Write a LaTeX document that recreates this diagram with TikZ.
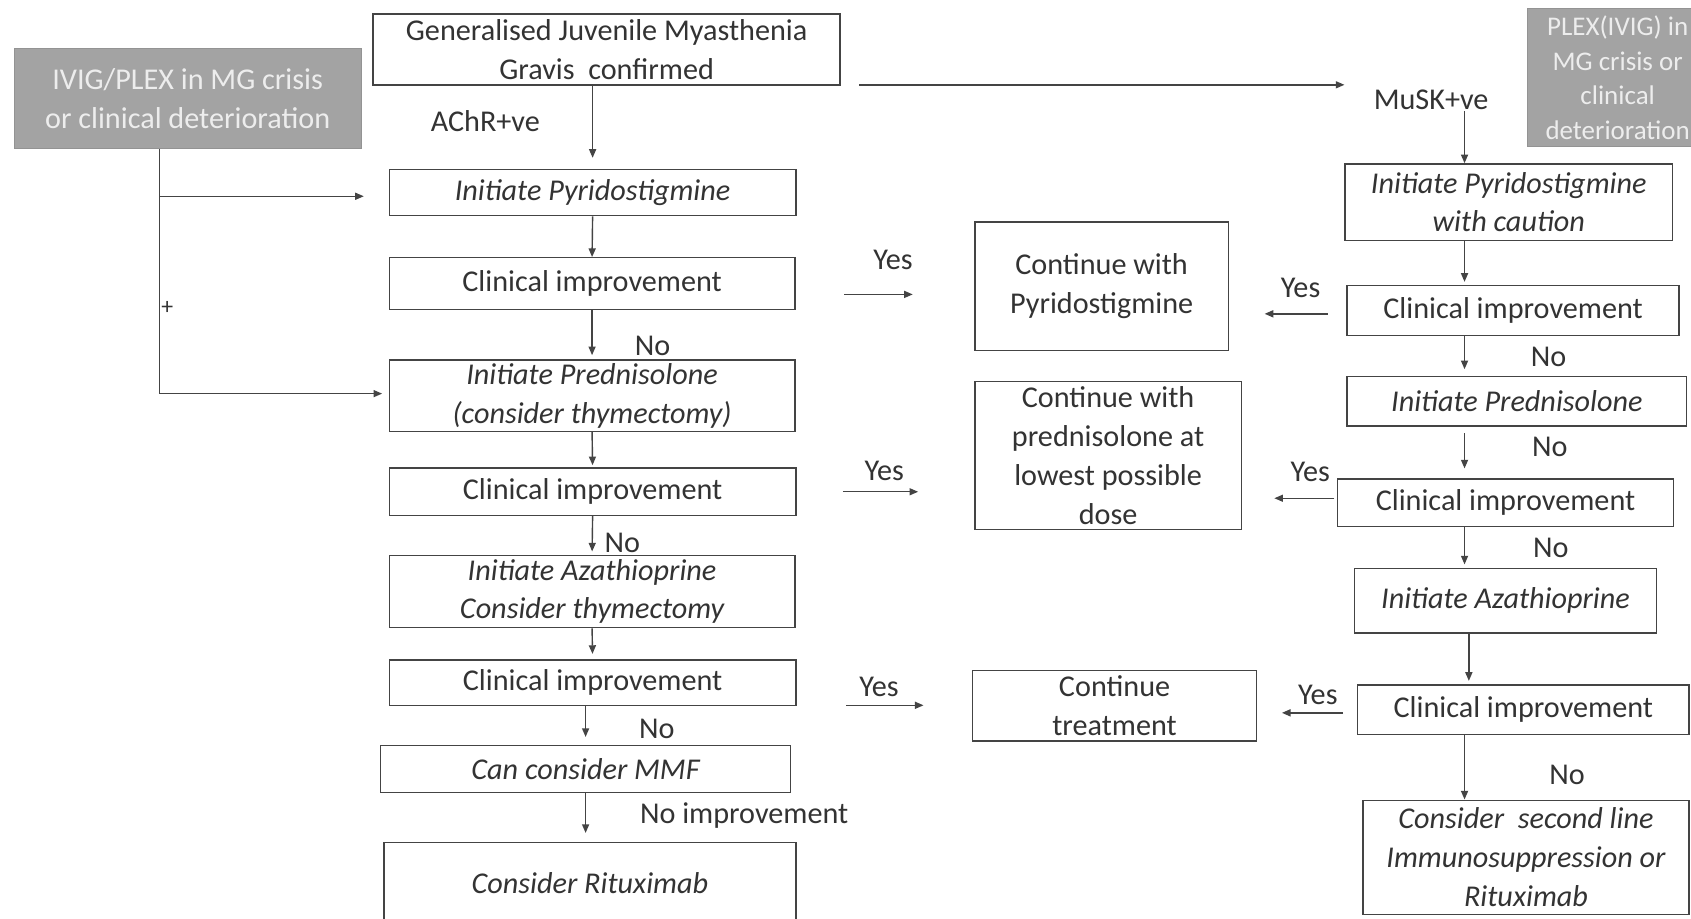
\documentclass[tikz,border=0pt]{standalone}
\usepackage{fontspec}
\setmainfont{Carlito}
\usetikzlibrary{arrows.meta}
\definecolor{txt}{HTML}{333333}
\definecolor{ln}{HTML}{444444}
\definecolor{greyfill}{HTML}{A3A3A3}
\definecolor{greytxt}{HTML}{EDEDED}
\tikzset{
  box/.style={draw=ln, line width=1.3pt, rectangle, inner sep=0pt, align=center, text=txt,
              font=\fontsize{28}{36}\selectfont},
  ibox/.style={box, font=\fontsize{28}{36}\selectfont\itshape},
  gbox/.style={rectangle, fill=greyfill, draw=greyfill!90!black, line width=0.6pt, inner sep=0pt,
               align=center, text=greytxt, font=\fontsize{28}{36}\selectfont},
  lbl/.style={text=txt, inner sep=1pt, font=\fontsize{28}{34}\selectfont},
  conn/.style={draw=ln, line width=1.3pt},
  arr/.style={conn, -{Triangle[length=8pt,width=6.5pt]}},
}
\begin{document}
\begin{tikzpicture}[x=1pt,y=1pt]
\clip (0,0) rectangle (1568,852);
\fill[white] (0,0) rectangle (1568,852);

% ---- left column
\node[box, minimum width=433pt, minimum height=66pt] (top) at (562.5,806)
  {Generalised Juvenile Myasthenia\\Gravis\ \ confirmed};
\node[gbox, minimum width=322pt, minimum height=93pt] (ivig) at (174,760.5)
  {IVIG/PLEX in MG crisis\\or clinical deterioration};
\node[ibox, minimum width=377pt, minimum height=43pt] (ipyr) at (549.5,673.5) {Initiate Pyridostigmine};
\node[box, minimum width=376pt, minimum height=48pt] (ci1) at (549,589) {Clinical improvement};
\node[ibox, minimum width=376pt, minimum height=66pt] (pred) at (549,485)
  {Initiate Prednisolone\\(consider thymectomy)};
\node[box, minimum width=377pt, minimum height=44pt] (ci2) at (549.5,396) {Clinical improvement};
\node[ibox, minimum width=376pt, minimum height=67pt] (aza) at (549,303.5)
  {Initiate Azathioprine\\Consider thymectomy};
\node[box, minimum width=377pt, minimum height=42pt] (ci3) at (549.5,219) {Clinical improvement};
\node[ibox, minimum width=380pt, minimum height=44pt] (mmf) at (543,139) {Can consider MMF};
\node[ibox, minimum width=382pt, minimum height=76pt] (rit) at (547,33) {Consider Rituximab};

% ---- middle column
\node[box, minimum width=235pt, minimum height=119pt] (contpyr) at (1021.5,586.5)
  {Continue with\\Pyridostigmine};
\node[box, minimum width=247pt, minimum height=137pt] (contpred) at (1027.5,429.5)
  {Continue with\\prednisolone at\\lowest possible\\dose};
\node[box, minimum width=263pt, minimum height=65pt] (conttr) at (1033.5,197.5)
  {Continue\\treatment};

% ---- right column
\node[gbox, minimum width=168pt, minimum height=128pt, font=\fontsize{25}{32}\selectfont] (plex) at (1500,780)
  {PLEX(IVIG) in\\MG crisis or\\clinical\\deterioration};
\node[lbl] (musk) at (1327,759) {MuSK+ve};
\node[ibox, minimum width=304pt, minimum height=71pt] (ipyrR) at (1399,664.5)
  {Initiate Pyridostigmine\\with caution};
\node[box, minimum width=308pt, minimum height=46pt] (ciR1) at (1403,564) {Clinical improvement};
\node[ibox, minimum width=315pt, minimum height=46pt] (predR) at (1406.5,480) {Initiate Prednisolone};
\node[box, minimum width=312pt, minimum height=44pt] (ciR2) at (1396,386) {Clinical improvement};
\node[ibox, minimum width=280pt, minimum height=60pt] (azaR) at (1396,295) {Initiate Azathioprine};
\node[box, minimum width=307pt, minimum height=46pt] (ciR3) at (1412.5,194) {Clinical improvement};
\node[ibox, minimum width=302pt, minimum height=106pt] (secR) at (1415,57)
  {Consider\ \ second line\\Immunosuppression or\\Rituximab};

% ---- labels
\node[lbl] (achr) at (450,740) {AChR+ve};
\node[lbl] (no1) at (605,531) {No};
\node[lbl] (no2) at (577,349) {No};
\node[lbl] (no3) at (609,176) {No};
\node[lbl] (noimp) at (690,96) {No improvement};
\node[lbl] (noR1) at (1436,521) {No};
\node[lbl] (noR2) at (1437,438) {No};
\node[lbl] (noR3) at (1438,344) {No};
\node[lbl] (noR4) at (1453,133) {No};
\node[lbl] (yesL1) at (828,611) {Yes};
\node[lbl] (yesL2) at (820,415) {Yes};
\node[lbl] (yesL3) at (815,215) {Yes};
\node[lbl] (yesR1) at (1206,585) {Yes};
\node[lbl] (yesR2) at (1215,414) {Yes};
\node[lbl] (yesR3) at (1222,208) {Yes};
\node[text=txt, inner sep=0pt, font=\fontsize{22}{22}\selectfont] (plus) at (155,566) {+};

% ---- left column connectors
\draw[arr, shorten >=10pt] (top.south -| ipyr.north) -- (ipyr.north);
\draw[arr] (ipyr.south) -- (ci1.north);
\draw[arr, shorten >=4pt] (ci1.south) -- (pred.north);
\draw[arr, shorten >=2pt] (pred.south) -- (ci2.north);
\draw[arr, shorten >=3pt] (ci2.south) -- (aza.north);
\draw[arr, shorten >=5pt] (aza.south) -- (ci3.north);
\draw[arr, shorten >=7pt] (ci3.south -| mmf.north) -- (mmf.north);
\draw[arr, shorten >=8pt] (mmf.south) -- (mmf.south |- rit.north);

% ---- IVIG connectors
\coordinate (ivb) at ([xshift=-26pt]ivig.south);
\coordinate (ivy) at ([yshift=-3.5pt]ipyr.west);
\draw[arr, shorten >=6pt] (ivb) |- ([yshift=2pt]pred.west);
\draw[arr, shorten >=23pt] (ivb |- ivy) -- (ivy);

% ---- top to MuSK
\draw[arr, shorten <=17pt, shorten >=26pt] ([yshift=1pt]top.south east) -- ([yshift=1pt]top.south east -| musk.west);
\coordinate (rc) at (1358,0);
\draw[arr] (musk.south -| rc) -- (ipyrR.north -| rc);
\draw[arr, shorten >=3pt] (ipyrR.south -| rc) -- (ciR1.north -| rc);
\draw[arr, shorten >=6pt] (ciR1.south -| rc) -- (predR.north -| rc);
\draw[arr, shorten <=6pt, shorten >=9pt] (predR.south -| rc) -- (ciR2.north -| rc);
\draw[arr, shorten >=3pt] (ciR2.south -| rc) -- (azaR.north -| rc);
\coordinate (rc2) at (1362,0);
\draw[arr, shorten >=3pt] (azaR.south -| rc2) -- (ciR3.north -| rc2);
\draw[arr] (ciR3.south -| rc) -- (secR.north -| rc);

% ---- Yes arrows from left column
\draw[arr, shorten <=45pt, shorten >=57pt] ([yshift=-10pt]ci1.east) -- ([yshift=-10pt]ci1.east -| contpyr.west);
\draw[arr, shorten <=43pt, shorten >=52pt] (ci2.east) -- (ci2.east -| contpred.west);
\draw[arr, shorten <=46pt, shorten >=45pt] ([yshift=-21pt]ci3.east) -- ([yshift=-21pt]ci3.east -| conttr.west);

% ---- Yes arrows from right column
\draw[arr, shorten <=17pt, shorten >=33pt] ([yshift=-3pt]ciR1.west) -- ([yshift=-3pt]ciR1.west -| contpyr.east);
\draw[arr, shorten <=2pt, shorten >=30pt] ([yshift=4pt]ciR2.west) -- ([yshift=4pt]ciR2.west -| contpred.east);
\draw[arr, shorten <=13pt, shorten >=23pt] ([yshift=-3pt]ciR3.west) -- ([yshift=-3pt]ciR3.west -| conttr.east);
\end{tikzpicture}
\end{document}
